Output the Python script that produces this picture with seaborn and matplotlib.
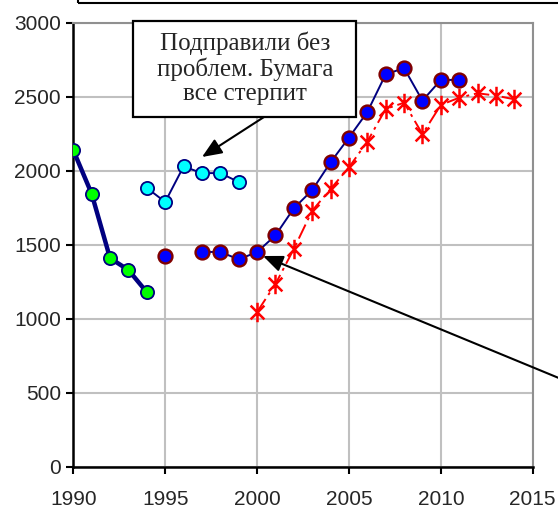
import numpy as np
import pandas as pd
import matplotlib
matplotlib.use("Agg")
import matplotlib.pyplot as plt
import matplotlib.patches as patches
from matplotlib.path import Path
import seaborn as sns

# data
years_a = [1990, 1991, 1992, 1993, 1994]
vals_a = [2140, 1845, 1410, 1330, 1180]

years_b = [1994, 1995, 1996, 1997, 1998, 1999]
vals_b = [1885, 1790, 2030, 1985, 1985, 1925]

years_c0 = [1995]
vals_c0 = [1425]
years_c = [1997, 1998, 1999, 2000, 2001, 2002, 2003, 2004, 2005, 2006, 2007, 2008, 2009, 2010, 2011]
vals_c = [1452, 1452, 1402, 1451, 1564, 1747, 1870, 2058, 2225, 2398, 2653, 2695, 2475, 2615, 2615]

years_d = [2000, 2001, 2002, 2003, 2004, 2005, 2006, 2007, 2008, 2009, 2010, 2011, 2012, 2013, 2014]
vals_d = [1046, 1235, 1472, 1731, 1878, 2024, 2198, 2419, 2461, 2249, 2446, 2495, 2525, 2509, 2484]

x_ticks = [1990, 1995, 2000, 2005, 2010, 2015]
y_ticks = [0, 500, 1000, 1500, 2000, 2500, 3000]
note = "Подправили без\nпроблем. Бумага\nвсе стерпит"

sns.set_style("white")
plt.rcParams['font.family'] = ['Liberation Sans', 'DejaVu Sans']

W, H = 558, 509
def fx(px):
    return px / W
def fy(py):
    return 1 - py / H

fig = plt.figure(figsize=(5.58, 5.09), dpi=100)
ax = fig.add_axes([fx(73.3), fy(466.7), (532.7 - 73.3) / W, (466.7 - 23) / H])

navy = "#000080"

# star marker like Excel: X plus a vertical bar
d = 0.7071
star = Path([(0, -1), (0, 1), (-d, -d), (d, d), (-d, d), (d, -d)],
            [Path.MOVETO, Path.LINETO, Path.MOVETO, Path.LINETO, Path.MOVETO, Path.LINETO])

# thick line with green markers
sns.lineplot(x=years_a, y=vals_a, ax=ax, color=navy, linewidth=3.2, marker='o',
             markersize=9.5, markerfacecolor="#00ff00", markeredgecolor=navy,
             markeredgewidth=1.3, zorder=5)
# cyan markers
sns.lineplot(x=years_b, y=vals_b, ax=ax, color=navy, linewidth=1.4, marker='o',
             markersize=9.5, markerfacecolor="#00ffff", markeredgecolor=navy,
             markeredgewidth=1.3, zorder=5)
# red dash-dot with star markers
sns.lineplot(x=years_d, y=vals_d, ax=ax, color="#ff0000", linewidth=1.4,
             linestyle=(0, (8, 2.5, 1.5, 2.5)), marker=star, markersize=14,
             markeredgecolor="#ff0000", markeredgewidth=1.8, zorder=4)
# blue markers with dark red edges
sns.lineplot(x=years_c, y=vals_c, ax=ax, color=navy, linewidth=1.4, marker='o',
             markersize=10, markerfacecolor="#0000ff", markeredgecolor="#800000",
             markeredgewidth=1.7, zorder=6)
sns.lineplot(x=years_c0, y=vals_c0, ax=ax, color=navy, linewidth=1.4, marker='o',
             markersize=10, markerfacecolor="#0000ff", markeredgecolor="#800000",
             markeredgewidth=1.7, zorder=6)

ax.set_xlim(1990, 2015)
ax.set_ylim(0, 3000)
ax.set_xticks(x_ticks)
ax.set_yticks(y_ticks)
ax.set_xlabel("")
ax.set_ylabel("")
ax.grid(True, color="#c0c0c0", linewidth=1.5)
ax.set_axisbelow(True)
for side in ['left', 'bottom']:
    ax.spines[side].set_color('black')
    ax.spines[side].set_linewidth(1.8)
for side in ['top', 'right']:
    ax.spines[side].set_color('#909090')
    ax.spines[side].set_linewidth(1.5)
ax.tick_params(axis='both', direction='out', length=5, width=1.5, color='black',
               labelsize=15, left=True, bottom=True)
ax.tick_params(axis='y', pad=4)
ax.tick_params(axis='x', pad=12)

# callout box
box = patches.Rectangle((fx(133), fy(117)), (356 - 133) / W, (117 - 21) / H,
                        transform=fig.transFigure, fc='white', ec='black',
                        lw=1.6, zorder=9)
fig.patches.append(box)
fig.text(fx(245), fy(68), note, ha='center', va='center', fontsize=18,
         family='Liberation Serif', linespacing=1.12, zorder=10)
ax.annotate("", xy=(fx(202), fy(157)), xycoords='figure fraction',
            xytext=(fx(264), fy(117)), textcoords='figure fraction',
            arrowprops=dict(arrowstyle='-|>,head_length=1.2,head_width=0.5',
                            color='black', lw=1.5, shrinkA=0, shrinkB=0),
            annotation_clip=False, zorder=10)

# long arrow from the right
ax.annotate("", xy=(fx(263), fy(256)), xycoords='figure fraction',
            xytext=(fx(600), fy(395)), textcoords='figure fraction',
            arrowprops=dict(arrowstyle='-|>,head_length=1.2,head_width=0.5',
                            color='black', lw=1.5, shrinkA=0, shrinkB=0),
            annotation_clip=False, zorder=10)

# clipped box at the very top
fig.patches.append(patches.Rectangle((fx(78), fy(3)), 600 / W, 0.2,
                                     transform=fig.transFigure, fill=False,
                                     ec='black', lw=1.5))

fig.savefig("out.png", dpi=100)
